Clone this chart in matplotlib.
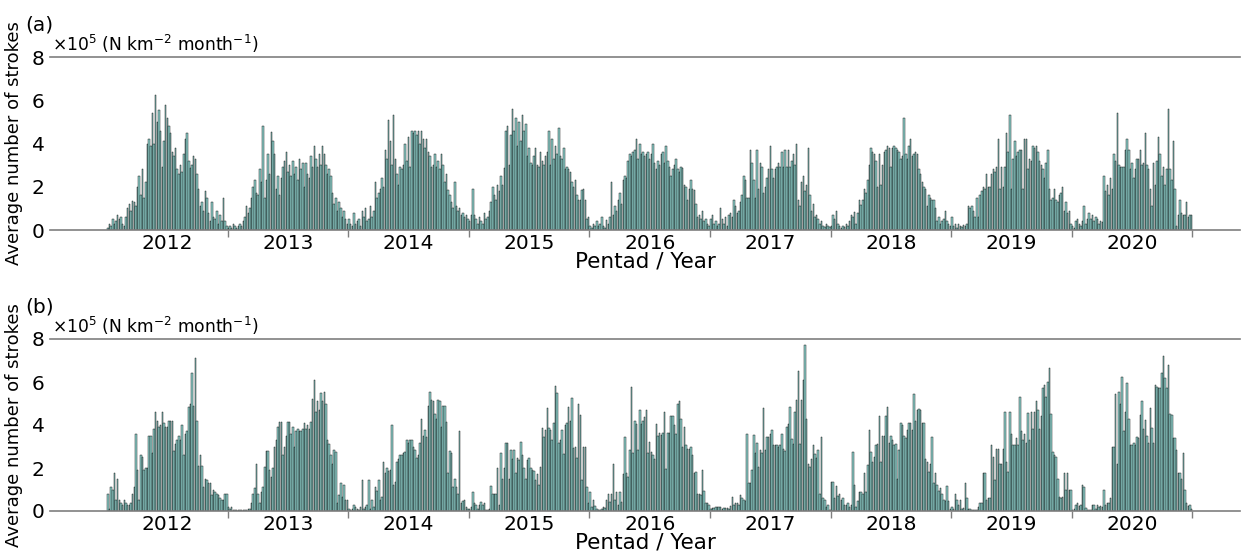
import numpy as np
import matplotlib
matplotlib.use("Agg")
import matplotlib.pyplot as plt

years = ["2012", "2013", "2014", "2015", "2016", "2017", "2018", "2019", "2020"]
pentads_per_year = 73

# Panel (a): average number of strokes per pentad (x1e5 N km^-2 month^-1)
a_2012 = [0.1,0.3,0.2,0.5,0.3,0.4,0.7,0.5,0.6,0.3,
          0.2,0.6,1.0,1.2,0.9,1.35,1.3,1.1,2.0,2.5,
          1.6,2.8,1.5,2.2,4.0,4.2,3.9,5.4,4.0,6.25,
          5.0,5.55,4.6,2.9,4.1,5.8,5.2,4.8,4.5,3.6,
          3.4,3.8,2.8,2.6,3.0,2.7,3.5,4.2,4.5,3.2,
          2.85,3.0,3.4,3.3,2.6,1.9,1.1,1.3,0.9,1.8,
          1.5,0.8,0.4,1.3,0.6,0.5,0.9,0.3,0.7,0.4,
          1.5,0.4,0.2]
a_2013 = [0.1,0.2,0.1,0.3,0.2,0.1, 0.2,0.3,0.2,0.4, 0.6,1.1,0.8,1.0,
          1.5,2.0,2.3,1.7, 1.6,2.8,2.2, 4.8, 1.5,2.3,3.5,2.6, 4.55,4.1,3.5,
          1.9,2.5,1.6,2.4, 2.9,3.2,3.6,2.7,3.0, 2.5,3.2,2.6,2.9, 2.3,3.3,2.8,3.1,
          2.0,3.1,2.6,2.4, 3.4,2.9,3.9,3.3,2.9,3.5,3.0,3.9, 3.5,3.0,2.6,2.8,
          2.5,1.7,1.2,1.5,0.9,1.3, 1.0,0.6,0.9,0.5,0.3]
a_2014 = [0.5,0.3,0.2,0.8,0.3,0.4,0.5,0.2,0.9,0.6,1.0,0.4,0.5,1.1,0.6,0.9,
          2.2,1.5,1.7,1.9,2.4,2.0, 3.7,3.3,5.1,4.1,3.0,5.3,3.3,2.6,
          2.1,2.9,2.8,3.0, 4.0,3.2,4.3,2.9, 4.6,4.5,4.6,4.4,4.6,4.0,
          4.6,4.2,3.8,4.2, 3.6,3.4,2.9,3.0, 3.5,2.9,3.2,2.8, 3.5,3.0,2.2,2.6,
          1.85,1.6,1.3,1.0, 2.2,1.1,0.9,1.0,0.7,0.8, 0.6,0.7,0.5]
a_2015 = [0.4,0.7,1.9,0.7,0.5,0.3,0.6,0.4,0.3,0.8,0.5,0.6,0.9,
          1.3,2.0,1.6,1.4,2.1,1.8,2.5,2.1, 2.85,4.6,4.8,3.0,4.4,
          5.6,4.6,5.2,3.9,5.0,4.1,5.3, 4.6,4.9,3.4,3.8,3.1,3.0,
          3.4,3.8,3.0,2.9,3.6,3.2,3.0,3.4,3.6, 4.6,3.0,4.2,3.3,3.9,3.5,
          4.7,3.4,3.3,3.8,2.8,2.9, 2.8,2.7,2.2,2.0,2.3,1.6,1.4,1.4,
          1.85,1.9,1.4,0.5,0.6]
a_2016 = [0.2,0.1,0.3,0.2,0.4,0.2,0.3,0.6,0.2,0.1,0.45,0.3,0.6,
          2.2,0.7,1.1,0.9,1.4,1.7,1.2,2.3, 2.5,2.4,3.2,3.5,3.4,3.6,
          3.7,4.2,3.3,4.0,3.5,3.6, 3.4,3.5,3.6,3.3,3.5, 4.0,3.1,2.8,3.2,3.0,
          3.5,3.6,3.1,3.9,3.2,2.9,2.5,2.8,3.0, 3.3,2.8,2.7,2.9,
          2.85,2.1,2.0,1.4,1.9, 2.3,1.9,1.85,1.2, 0.6,0.7,0.5,0.9,0.4,0.5,0.3,0.2]
a_2017 = [0.5,0.7,0.3,0.4,0.2,0.3, 1.0,0.5,0.3,0.6,0.2,0.7,0.8,0.6,
          1.4,1.1,0.8,0.9,1.3,1.6, 2.5,2.3,1.5,1.5, 3.7,3.1,2.3,1.5,3.7,1.9,
          3.1,2.9,1.7,2.0,2.4,2.8, 3.9,2.8,2.4,2.8,2.9,3.1,2.9,3.6,
          2.9,3.7,2.9,3.7,2.9,3.2,3.5,3.0, 4.0,1.4,1.1,2.2,2.5,1.8,2.1,
          3.8,1.6,0.9,1.2,0.6,0.7, 0.5,0.3,0.4,0.2,0.15,0.3,0.2,0.15]
a_2018 = [0.2,0.7,0.5,0.9,0.3,0.2,0.1,0.2,0.15,0.3,0.2,0.4,0.7,0.6,0.85,
          0.3,0.8,1.4,1.15,1.4,1.9,1.7,2.3, 3.0,3.8,3.6,3.5,3.2,2.0,3.5,2.1,3.0,3.6,
          3.7,3.9,3.8,2.9,3.8,3.9,3.8,3.7,3.6,3.3,3.4,
          5.2,3.5,3.3,3.9,4.2,3.4,3.5,3.6,3.5, 2.8,2.6,2.2,2.0,1.9,1.1,1.6,
          1.5,1.4,1.4,1.0,0.4,0.6,0.3,0.4,0.5, 0.9,0.4,0.3,0.2]
a_2019 = [0.6,0.2,0.3,0.1,0.3,0.2,0.15,0.25,0.2,0.3,
          1.1,1.0,1.1,0.9,0.6,1.5,0.6,1.6,1.8,2.0,1.9, 2.6,2.0,2.0,2.6,2.8,2.7,2.9,
          4.2,1.9,2.9,2.0,2.9,4.5,3.6, 5.3,1.9,3.3,4.1,3.4,3.6,3.7,3.7,1.9,4.2,
          4.2,2.8,3.3,3.2,3.9,3.8,3.9,3.6,3.2,3.0,2.8,2.4,3.1,
          3.7,1.9,1.4,1.5,1.9,1.4,1.3,1.6,1.7, 2.0,0.9,1.3,0.8,0.9,0.3]
a_2020 = [0.2,0.1,0.4,0.5,0.3,0.2,0.4,
          1.1,0.3,0.5,0.8,0.5,0.7,0.4,0.6,0.5,0.3,0.4,0.35,
          2.5,1.8,2.1,1.6,2.4,1.9,3.5,3.2, 5.4,3.0,2.9,2.9,2.9,3.7,
          4.2,3.7,2.8,3.1,2.4,2.8,3.3,3.3,3.7,3.0,3.1, 4.5,3.0,2.8,1.9,1.1,3.1,2.1,3.2,
          4.3,3.5,2.5,2.9,2.1,2.8, 5.6,2.8,2.3,4.1,1.9,0.2,0.7,
          1.4,0.8,0.7,0.7,1.3,0.6,0.7,0.7]

# Panel (b)
b_2012 = [0.8,0.1,1.1,1.0,
          1.75,0.5,1.5,0.5,0.35,0.3,0.5,0.35,0.3,0.3,0.35,0.8,1.1,
          3.6,1.9,0.5,2.6,2.5,1.9,2.0,2.0,3.5,3.5,2.7,3.8,4.6,
          4.2,3.9,4.0,4.6,4.1,3.9,3.9,4.2,4.2,4.2,
          2.8,3.1,3.3,3.5,3.3,4.0,2.6,3.6,3.7,4.85,5.0,
          6.4,4.9,7.1,4.2,2.1,2.6,2.1,1.1,1.5,
          1.45,1.3,1.3,0.75,1.0,0.9,0.8,0.75,0.6,0.5,0.5,0.8,0.8]
b_2013 = [0.2,0.1,0.2,0.05,0.05,0.05,0.05,0.05,0.05,0.05,0.05,0.05,0.1,0.1,
          0.35,0.8,1.05,2.2,0.8,0.35,0.9,1.1, 2.05,2.8,2.8,1.9,1.6,2.0,
          3.0,3.3,3.9,4.15,4.15,2.6,3.0,3.5,4.15,4.15,
          3.6,3.9,3.0,3.7,3.8,3.7,3.7,3.8,4.1,3.8,4.0,3.8,4.15,
          5.2,6.1,4.6,5.1,4.7,5.5,5.1, 5.55,5.0,3.3,3.1,2.6,2.2,2.85,2.75,
          0.35,0.75,1.3,0.65,1.2,0.5,0.5]
b_2014 = [0.1,0.05,0.1,0.3,0.2,0.1,0.05,0.2,
          1.45,0.1,0.2,0.3,1.45,0.1,0.5,0.2,1.1,0.95,1.45,0.5,
          0.65,2.3,1.75,2.0,1.85,1.9, 4.0,1.2,1.35,2.3,2.4,2.6,2.6,2.7,2.75,
          3.3,3.15,3.3,3.3,3.0,2.85,2.45,2.6,3.15, 4.3,3.5,3.75,3.45,4.9,
          5.55,5.15,5.1,4.5,4.3, 5.15,5.1,3.9,4.9,4.9,4.15,
          1.75,2.8,2.7,1.1,1.5,1.1,0.8, 3.7,0.35,0.45,0.5,0.2,0.1]
b_2015 = [0.1,0.2,0.9,0.35,0.3,0.1,0.3,0.4,0.3,0.35,0.05,0.05,0.1,
          1.15,0.8,0.8,0.8,2.0,0.3,
          2.7,1.5,2.0,3.15,3.15,1.5,2.85,2.4,2.85,1.75,2.45,2.35,
          3.2,2.6,2.0,1.5,2.35,2.45,2.0,1.9,1.85,1.45,1.7,1.2,2.05,
          3.85,3.45,3.75,4.8,3.85,3.75,3.3,4.1,
          5.8,5.5,3.15,3.3,3.75,2.65,4.0,4.1,4.85,4.2,
          5.25,2.95,3.0,2.45,5.0,4.45, 1.45,3.0,3.0,1.1,0.35]
b_2016 = [0.9,0.2,0.5,0.25,0.1,0.05,0.05,0.1,0.2,0.15,0.5,0.8,0.4,0.8,
          2.2,0.5,0.9,0.3,0.9,0.4,1.7, 3.45,1.75,1.6,2.85,
          5.75,2.7,4.2,4.05,2.85,4.7,4.05,4.2,4.35,
          4.7,2.7,3.2,2.75,2.6,2.4,4.05,3.5,3.65,3.55,3.65,
          4.6,1.95,3.65,3.65,4.4,4.4,4.0,3.6,
          5.0,5.1,4.3,3.0,3.9,3.05,2.9,2.9,3.0,
          2.6,1.75,1.8,0.8,0.8,0.75, 1.9,0.95,0.35,0.35,0.3]
b_2017 = [0.1,0.15,0.15,0.2,0.2,0.2,0.2,0.1,0.15,0.15,0.15,0.1,0.25,
          0.65,0.3,0.35,0.35,0.3,0.75,0.6,0.5,0.45,
          3.6,1.3,1.3,1.9,3.55,2.7,3.15,2.05,2.85,2.7,
          4.8,2.85,3.45,3.45,3.6,3.75,3.05,3.05,3.05,3.0,3.05,3.6,2.9,2.8,
          3.9,4.05,4.85,3.35,3.1,4.6,5.15, 6.5,3.1,5.15,6.1,7.7,
          4.3,2.2,2.05,2.4,3.05,2.65,2.45,2.85,0.8, 3.45,0.6,0.5,0.2,0.3,0.05]
b_2018 = [1.35,1.35,0.6,1.15,0.7,0.8,0.5,0.6,0.3,0.3,0.35,0.2,0.3,
          2.75,1.2,0.2,0.45,0.9,0.9,0.8,1.75,0.9,2.15,
          3.75,2.75,2.3,2.5,3.05,3.1,4.4,2.3,3.5,3.5,4.4,
          4.85,3.15,3.5,3.3,3.05,3.1,1.5,2.85, 4.1,4.0,3.5,3.4,3.75,4.1,4.1,3.75,
          5.45,4.2,4.7,4.75,4.7,4.1, 4.1,2.4,2.3,1.8,2.2,
          3.45,1.3,1.75,1.2,0.95,1.05, 0.8,0.5,0.45,1.15,0.45,0.1]
b_2019 = [0.2,0.1,0.8,0.5,0.3,0.5,0.1,0.15,
          1.3,0.6,0.1,0.1,0.05,0.05,0.05,0.05,0.2,0.35,0.35,
          1.75,1.75,0.5,0.6,0.6, 3.05,2.5,1.45,2.9,2.9,2.2,2.2,2.9,
          4.6,2.3,1.8,4.6,3.6,3.05,3.05,3.4,3.05,
          5.3,3.7,3.3,3.6,3.15,4.55,3.3,4.6,3.8,4.6,
          5.1,4.7,3.8,4.4,5.7,5.85,5.3,6.0, 6.65,4.5,2.75,2.6,2.5,
          1.5,0.65,0.6,0.65,1.75,1.0,1.75,1.0,1.0]
b_2020 = [0.05,0.1,0.3,0.35,0.25,0.3,
          1.2,1.1,0.15,0.05,0.05,0.05,0.3,0.3,0.1,0.3,0.2,0.25,0.2,
          1.0,0.3,0.35,0.35,0.6, 3.0,3.0,5.45,2.2,5.55,5.0,
          6.25,3.7,4.6,5.95,4.3,3.05,3.05,3.15,3.05,3.45,3.4,
          4.45,5.1,3.8,4.25,3.5,3.15,4.8,3.85,3.15,
          5.85,5.75,5.7,5.7,6.4, 7.2,6.2,5.7,6.8,4.5,
          4.45,3.4,3.4,2.85,1.75,1.75,1.5, 2.7,1.0,0.35,0.25,0.3,0.1]

panel_a = [a_2012, a_2013, a_2014, a_2015, a_2016, a_2017, a_2018, a_2019, a_2020]
panel_b = [b_2012, b_2013, b_2014, b_2015, b_2016, b_2017, b_2018, b_2019, b_2020]

bar_color = "#92d3ce"
spine_color = "#7f7f7f"

fig = plt.figure(figsize=(12.45, 5.55), dpi=100)
ax_a = fig.add_axes([50/1245, 1-230/555, 1190/1245, 173/555])
ax_b = fig.add_axes([50/1245, 1-511/555, 1190/1245, 172/555])

for ax, panel, tag in [(ax_a, panel_a, "(a)"), (ax_b, panel_b, "(b)")]:
    for k, vals in enumerate(panel):
        x = k * pentads_per_year + np.arange(len(vals))
        ax.bar(x, vals, width=0.9, color=bar_color, edgecolor="black",
               linewidth=0.3, align="center")
    ax.set_xlim(-35, 685.3)
    ax.set_ylim(0, 8)
    ax.set_yticks([0, 2, 4, 6, 8])
    ax.tick_params(axis="y", length=0, pad=4, labelsize=14.5)
    bounds = [k * pentads_per_year - 0.5 for k in range(1, len(years) + 1)]
    centers = [k * pentads_per_year + (pentads_per_year - 1) / 2 for k in range(len(years))]
    ax.set_xticks(bounds)
    ax.set_xticklabels([])
    ax.set_xticks(centers, minor=True)
    ax.set_xticklabels(years, minor=True)
    ax.tick_params(axis="x", which="major", length=5, width=1, color=spine_color)
    ax.tick_params(axis="x", which="minor", length=0, pad=3, labelsize=14.5)
    for s in ["left", "right"]:
        ax.spines[s].set_visible(False)
    for s in ["top", "bottom"]:
        ax.spines[s].set_color(spine_color)
        ax.spines[s].set_linewidth(1.2)
    ax.set_xlabel("Pentad / Year", fontsize=15.5, labelpad=-1)
    ax.set_ylabel("Average number of strokes", fontsize=13, labelpad=6)
    ax.text(0.002, 1.012, r"$\times10^5$ (N km$^{-2}$ month$^{-1}$)",
            transform=ax.transAxes, fontsize=12.3, ha="left", va="bottom")
    ax.text(-0.009, 1.13, tag, transform=ax.transAxes, fontsize=14.5,
            ha="center", va="bottom")

fig.savefig("out.png", dpi=100)
